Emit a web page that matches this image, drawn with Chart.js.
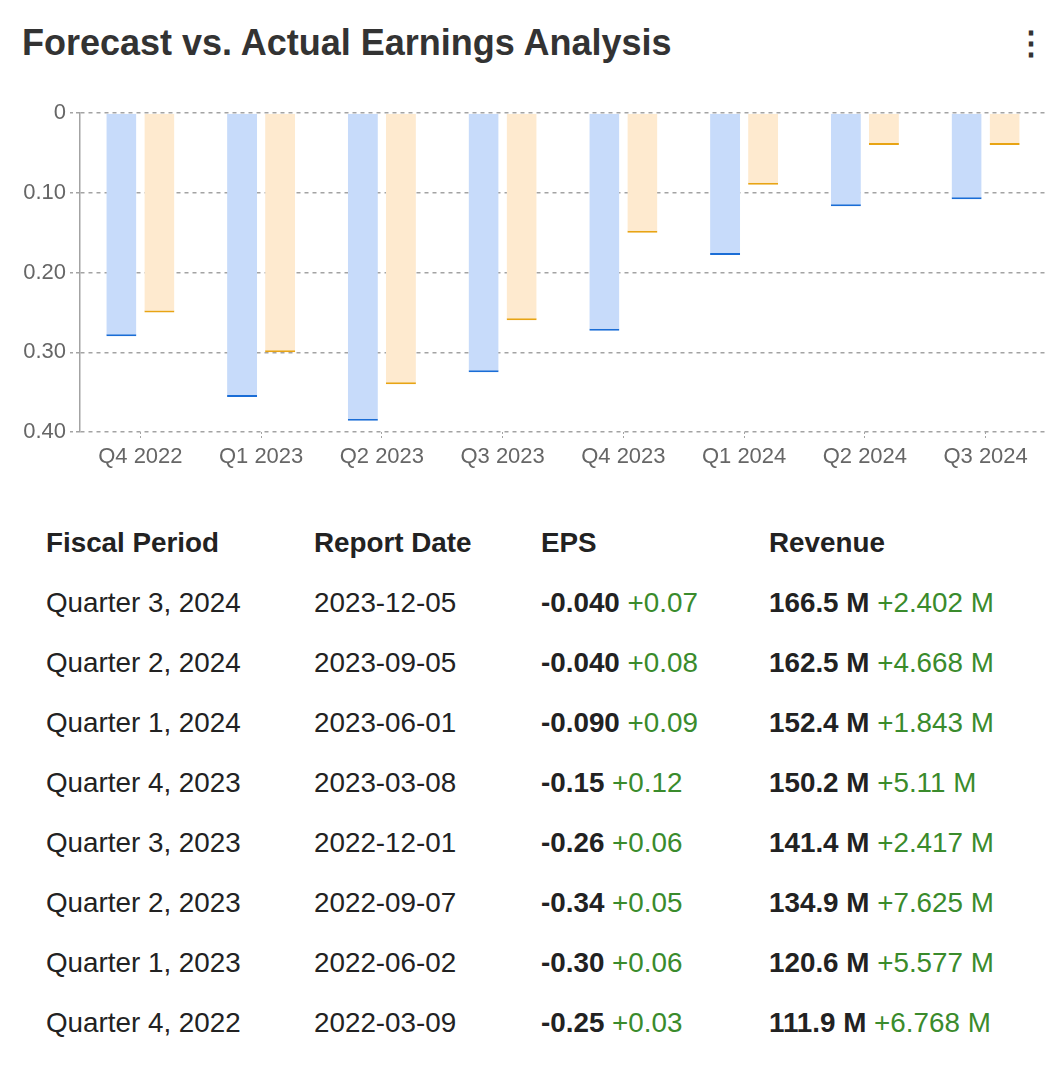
<!DOCTYPE html>
<html>
<head>
<meta charset="utf-8">
<script src="https://cdn.jsdelivr.net/npm/chart.js@4.4.1/dist/chart.umd.min.js"></script>
<style>
  body { margin: 0; background: #fff; font-family: "Liberation Sans", Arial, sans-serif; }
  #wrap { position: relative; width: 1054px; height: 1075px; overflow: hidden; }
  #title { position: absolute; left: 22px; top: 22px; font-size: 36px; font-weight: bold; color: #333; white-space: nowrap; }
  #menu { position: absolute; left: 1015px; top: 24px; font-size: 32px; font-weight: bold; color: #333; }
  #chartBox { position: absolute; left: 0; top: 95px; width: 1054px; height: 385px; }
  #earnings { position: absolute; left: 46px; top: 513px; border-collapse: collapse; font-size: 27.8px; color: #222; }
  #earnings th { font-weight: bold; text-align: left; height: 60px; padding: 0; }
  #earnings td { height: 60px; padding: 0; white-space: nowrap; }
  .c1 { width: 268px; } .c2 { width: 227px; } .c3 { width: 228px; }
  .up { color: #3a8b2c; }
</style>
</head>
<body>
<div id="wrap">
  <div id="title">Forecast vs. Actual Earnings Analysis</div>
  <div id="menu">⋮</div>
  <div id="chartBox"><canvas id="epsChart"></canvas></div>
  <table id="earnings"></table>
</div>
<script>
// chart data
const quarters = ["Q4 2022", "Q1 2023", "Q2 2023", "Q3 2023", "Q4 2023", "Q1 2024", "Q2 2024", "Q3 2024"];
const forecastEps = [0.28, 0.356, 0.386, 0.325, 0.273, 0.178, 0.117, 0.108];
const actualEps = [0.25, 0.30, 0.34, 0.26, 0.15, 0.09, 0.04, 0.04];
const yTickValues = [0, 0.1, 0.2, 0.3, 0.4];

// table data
const tableHeaders = ["Fiscal Period", "Report Date", "EPS", "Revenue"];
const fiscalPeriods = ["Quarter 3, 2024", "Quarter 2, 2024", "Quarter 1, 2024", "Quarter 4, 2023", "Quarter 3, 2023", "Quarter 2, 2023", "Quarter 1, 2023", "Quarter 4, 2022"];
const reportDates = ["2023-12-05", "2023-09-05", "2023-06-01", "2023-03-08", "2022-12-01", "2022-09-07", "2022-06-02", "2022-03-09"];
const epsReported = ["-0.040", "-0.040", "-0.090", "-0.15", "-0.26", "-0.34", "-0.30", "-0.25"];
const epsSurprise = ["+0.07", "+0.08", "+0.09", "+0.12", "+0.06", "+0.05", "+0.06", "+0.03"];
const revenueReported = ["166.5 M", "162.5 M", "152.4 M", "150.2 M", "141.4 M", "134.9 M", "120.6 M", "111.9 M"];
const revenueSurprise = ["+2.402 M", "+4.668 M", "+1.843 M", "+5.11 M", "+2.417 M", "+7.625 M", "+5.577 M", "+6.768 M"];

const tickFont = { family: "'Liberation Sans', Arial, sans-serif", size: 22 };
const gridGray = "#a3a3a3";

const ctx = document.getElementById("epsChart").getContext("2d");
new Chart(ctx, {
  type: "bar",
  data: {
    labels: quarters,
    datasets: [
      {
        label: "Forecast",
        data: forecastEps,
        backgroundColor: "#c7dbfa",
        borderColor: "#1a6dd6",
        borderWidth: { top: 0, right: 0, bottom: 2, left: 0 },
        borderSkipped: false,
        categoryPercentage: 0.63,
        barPercentage: 0.79
      },
      {
        label: "Actual",
        data: actualEps,
        backgroundColor: "#feeacf",
        borderColor: "#e8a414",
        borderWidth: { top: 0, right: 0, bottom: 2, left: 0 },
        borderSkipped: false,
        categoryPercentage: 0.63,
        barPercentage: 0.79
      }
    ]
  },
  options: {
    responsive: true,
    maintainAspectRatio: false,
    animation: false,
    layout: { padding: { top: 18, right: 8, bottom: 0, left: 0 } },
    plugins: {
      legend: { display: false },
      tooltip: { enabled: false }
    },
    scales: {
      x: {
        afterFit: (scale) => { scale.height = 48; },
        border: { display: false },
        grid: {
          offset: false,
          drawOnChartArea: false,
          drawTicks: true,
          tickLength: 8,
          tickColor: gridGray,
          tickBorderDash: [2, 2]
        },
        ticks: { color: "#666", font: tickFont, padding: 4, maxRotation: 0 }
      },
      y: {
        reverse: true,
        min: 0,
        max: 0.4,
        afterFit: (scale) => { scale.width = 80; },
        afterBuildTicks: (scale) => { scale.ticks = yTickValues.map(v => ({ value: v })); },
        border: { display: true, color: gridGray, dash: [4, 4], width: 1.5 },
        grid: {
          color: gridGray,
          lineWidth: 1.5,
          borderDash: [6, 5],
          tickLength: 10,
          tickColor: gridGray,
          tickBorderDash: [3, 3]
        },
        ticks: {
          color: "#666",
          font: tickFont,
          padding: 4,
          callback: (v) => (v === 0 ? "0" : v.toFixed(2))
        }
      }
    }
  }
});

// table
const table = document.getElementById("earnings");
let html = "<tr>" + tableHeaders.map((h, i) => `<th class="c${i + 1}">${h}</th>`).join("") + "</tr>";
fiscalPeriods.forEach((p, i) => {
  html += "<tr>" +
    `<td>${p}</td>` +
    `<td>${reportDates[i]}</td>` +
    `<td><b>${epsReported[i]}</b> <span class="up">${epsSurprise[i]}</span></td>` +
    `<td><b>${revenueReported[i]}</b> <span class="up">${revenueSurprise[i]}</span></td>` +
    "</tr>";
});
table.innerHTML = html;
</script>
</body>
</html>
